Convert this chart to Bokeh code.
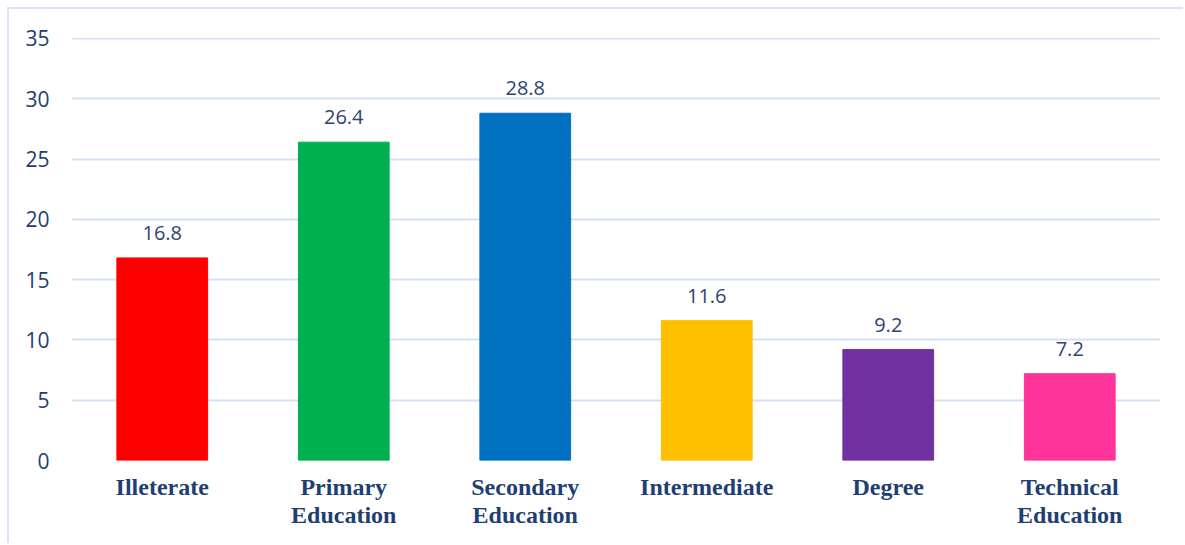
from bokeh.plotting import figure
from bokeh.models import ColumnDataSource, LabelSet, FactorRange, Range1d, FixedTicker
from bokeh.core.properties import value
from bokeh.embed import file_html
from bokeh.resources import INLINE

categories = ["Illeterate", "Primary\nEducation", "Secondary\nEducation", "Intermediate", "Degree", "Technical\nEducation"]
values = [16.8, 26.4, 28.8, 11.6, 9.2, 7.2]
colors = ["#FF0000", "#00B050", "#0070C0", "#FFC000", "#7030A0", "#FF3399"]
labels = ["16.8", "26.4", "28.8", "11.6", "9.2", "7.2"]
y_ticks = [0, 5, 10, 15, 20, 25, 30, 35]

src = ColumnDataSource(dict(cat=categories, val=values, col=colors, lab=labels))

p = figure(width=1176, height=536, x_range=FactorRange(*categories, range_padding=0),
           y_range=Range1d(0, 35.08), output_backend="svg", toolbar_location=None,
           min_border_left=62, min_border_right=25, min_border_top=28, min_border_bottom=85)
p.margin = (7, 0, 0, 7)
p.styles = {"border-left": "2px solid #DAE5F3", "border-top": "2px solid #DAE5F3"}
p.outline_line_color = None
p.background_fill_color = "white"
p.border_fill_color = "white"

p.vbar(x="cat", top="val", width=0.5, color="col", source=src)

p.add_layout(LabelSet(x="cat", y="val", text="lab", source=src, text_align="center",
                      text_baseline="alphabetic", y_offset=18, text_font=value("Open Sans"),
                      text_font_size=value("20px"), text_color=value("#2E4470")))

p.xgrid.grid_line_color = None
p.ygrid.grid_line_color = "#D6E2F3"
p.ygrid.grid_line_width = 2
p.yaxis.ticker = FixedTicker(ticks=y_ticks)
p.yaxis.axis_line_color = None
p.yaxis.major_tick_line_color = None
p.yaxis.minor_tick_line_color = None
p.yaxis.major_tick_out = 0
p.yaxis.major_label_standoff = 22
p.yaxis.major_label_text_font = "Open Sans"
p.yaxis.major_label_text_font_size = "21px"
p.yaxis.major_label_text_color = "#22406E"

p.xaxis.axis_line_color = None
p.xaxis.major_tick_line_color = None
p.xaxis.major_tick_out = 0
p.xaxis.major_label_standoff = 13
p.xaxis.major_label_text_font = "Liberation Serif"
p.xaxis.major_label_text_font_style = "bold"
p.xaxis.major_label_text_font_size = "24px"
p.xaxis.major_label_text_color = "#1F3F73"
p.xaxis.major_label_text_line_height = 1.1

open("out.html", "w").write(file_html(p, INLINE))
